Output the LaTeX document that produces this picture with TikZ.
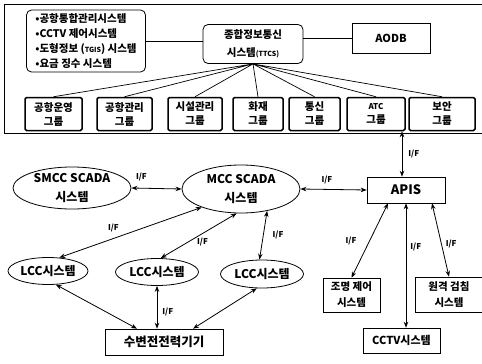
\documentclass[tikz,border=0pt]{standalone}
\usepackage{fontspec}
\setmainfont{Noto Sans CJK KR}
\usetikzlibrary{arrows.meta,positioning,calc,shapes.geometric}

\begin{document}
\begin{tikzpicture}[x=1pt,y=-1pt,
every node/.style={font=\bfseries\fontsize{10.5}{14}\selectfont,align=center,inner sep=1pt},
grp/.style={draw,line width=1.5pt,rounded corners=1.5pt,minimum height=33pt},
sbox/.style={draw,line width=.6pt},
ell/.style={draw,ellipse,line width=.8pt,inner sep=0pt,font=\bfseries\fontsize{12}{19}\selectfont},
iflbl/.style={font=\bfseries\fontsize{8}{9}\selectfont,inner sep=1pt},
link/.style={draw,line width=.7pt},
ifarrow/.style={draw,line width=.8pt,{Stealth[length=6pt,width=4.5pt]}-{Stealth[length=6pt,width=4.5pt]}}]
\useasboundingbox (0,0) rectangle (482,364);
% outer frame of the upper level
\draw[line width=.6pt] (482,4) -- (4,4) -- (4,133) -- (482,133);

\node[draw,rounded corners=5pt,line width=.8pt,minimum width=119pt,minimum height=62pt,align=left,
  font=\bfseries\fontsize{10.5}{15}\selectfont] (lst) at (86,41)
  {•공항통합관리시스템\\•CCTV 제어시스템\\•도형정보 ({\fontsize{7}{8}\selectfont TGIS}) 시스템\\•요금 징수 시스템};
\node[draw,rounded corners=5pt,line width=.8pt,minimum width=100pt,minimum height=39pt,
  font=\bfseries\fontsize{10.5}{18}\selectfont] (ttcs) at (253,44) {종합정보통신\\시스템{\fontsize{7}{8}\selectfont(TTCS)}};
\node[draw,line width=.9pt,minimum width=78pt,minimum height=30pt,font=\bfseries\fontsize{11}{12}\selectfont] (aodb) at (391,38) {AODB};

% groups
\node[grp,minimum width=57pt] (g1) at (53.5,114) {공항운영\\그룹};
\node[grp,minimum width=55pt] (g2) at (124.5,114) {공항관리\\그룹};
\node[grp,minimum width=54pt] (g3) at (195,114) {시설관리\\그룹};
\node[grp,minimum width=50pt] (g4) at (258,114) {화재\\그룹};
\node[grp,minimum width=51pt] (g5) at (314.5,114) {통신\\그룹};
\node[grp,minimum width=58pt] (g6) at (376,114) {{\fontsize{8}{9}\selectfont ATC}\\그룹};
\node[grp,minimum width=66pt] (g7) at (442,114) {보안\\그룹};

\draw[link] (lst.east) -- (lst.east -| ttcs.west);
\draw[link] (aodb.west -| ttcs.east) -- (aodb.west);
\draw[link] (ttcs.south) -- (g1.north) (ttcs.south) -- (g2.north) (ttcs.south) -- (g3.north)
  (ttcs.south) -- (g4.north) (ttcs.south) -- (g5.north) (ttcs.south) -- (g6.north) (ttcs.south) -- (g7.north);

% SCADA level
\node[ell,minimum width=118pt,minimum height=42pt] (smcc) at (72,188) {SMCC SCADA\\시스템};
\node[ell,minimum width=118pt,minimum height=48pt] (mcc) at (241,189) {MCC SCADA\\시스템};
\node[sbox,minimum width=78pt,minimum height=26pt,font=\bfseries\fontsize{13}{14}\selectfont] (apis) at (406,190) {APIS};

\node[ell,minimum width=80pt,minimum height=27pt] (lcc1) at (48,271) {LCC시스템};
\node[ell,minimum width=83pt,minimum height=27pt] (lcc2) at (157,272) {LCC시스템};
\node[ell,minimum width=83pt,minimum height=28pt] (lcc3) at (262,274) {LCC시스템};
\node[sbox,minimum width=118pt,minimum height=26pt,font=\bfseries\fontsize{12.5}{14}\selectfont] (pwr) at (164,342) {수변전전력기기};

\node[sbox,minimum width=57pt,minimum height=34pt,font=\bfseries\fontsize{10.5}{16}\selectfont] (light) at (351.5,295) {조명 제어\\시스템};
\node[sbox,minimum width=67pt,minimum height=35pt,font=\bfseries\fontsize{10.5}{16}\selectfont] (meter) at (449,294.5) {원격 검침\\시스템};
\node[sbox,minimum width=77pt,minimum height=25pt,font=\bfseries\fontsize{11}{12}\selectfont] (cctv) at (401.5,340.5) {CCTV시스템};

% interfaces
\draw[ifarrow] (smcc.east) -- (mcc.west) node[iflbl,pos=.2,above=6pt] {I/F};
\draw[ifarrow] (mcc.east) -- (apis.west) node[iflbl,pos=.4,above=4pt] {I/F};
\draw[ifarrow] ([xshift=26pt]g6.south) coordinate (atc) -- (atc |- apis.north) node[iflbl,midway,right=5pt] {I/F};

\draw[ifarrow] (lcc1.50) -- (mcc.205) node[iflbl,pos=.38,above=5pt] {I/F};
\draw[ifarrow] (lcc2.75) -- (mcc.260) node[iflbl,pos=.55,below=3pt] {I/F};
\draw[ifarrow] (lcc3.100) -- (mcc.-40) node[iflbl,midway,right=8pt] {I/F};

\draw[ifarrow] (lcc1.-60) -- ([xshift=-27pt]pwr.north);
\draw[ifarrow] (lcc2.south) -- (lcc2.south |- pwr.north) node[iflbl,pos=.6,right=4pt] {I/F};
\draw[ifarrow] (lcc3.-110) -- ([xshift=29pt]pwr.north);

\draw[ifarrow] ([xshift=-18pt]apis.south) -- (light.north) node[iflbl,midway,left=12pt] {I/F};
\draw[ifarrow] (apis.south) -- (apis.south |- cctv.north) node[iflbl,pos=.35,right=3pt] {I/F};
\draw[ifarrow] ([xshift=26pt]apis.south) -- (meter.north) node[iflbl,pos=.55,right=3pt] {I/F};
\end{tikzpicture}
\end{document}
